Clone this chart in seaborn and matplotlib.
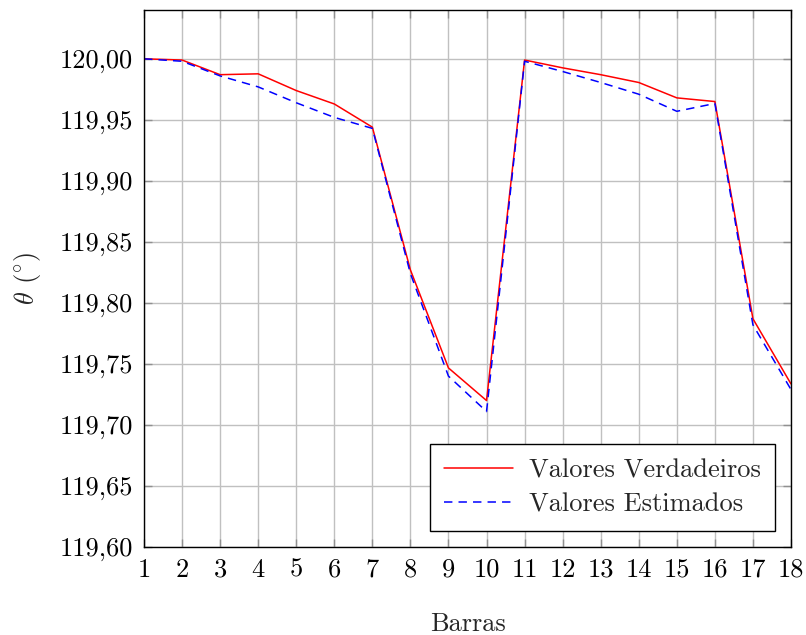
import matplotlib
matplotlib.use("Agg")
import matplotlib.pyplot as plt
import seaborn as sns
import pandas as pd
from matplotlib.ticker import FixedLocator, FixedFormatter

barras = list(range(1, 19))
valores_verdadeiros = [120.000, 119.999, 119.987, 119.9877, 119.974, 119.963, 119.944,
                       119.827, 119.7467, 119.720, 119.999, 119.9926, 119.987, 119.9806,
                       119.968, 119.965, 119.787, 119.7336]
valores_estimados = [120.000, 119.998, 119.986, 119.977, 119.964, 119.952, 119.943,
                     119.824, 119.740, 119.711, 119.998, 119.9896, 119.9806, 119.971,
                     119.957, 119.9634, 119.782, 119.729]
serie_nomes = ["Valores Verdadeiros", "Valores Estimados"]
yticks = [119.60, 119.65, 119.70, 119.75, 119.80, 119.85, 119.90, 119.95, 120.00]
ytick_labels = ["119,60", "119,65", "119,70", "119,75", "119,80", "119,85", "119,90", "119,95", "120,00"]

df = pd.DataFrame({
    "Barras": barras * 2,
    "theta": valores_verdadeiros + valores_estimados,
    "Serie": [serie_nomes[0]] * len(barras) + [serie_nomes[1]] * len(barras),
})

sns.set_theme(style="white")
plt.rcParams["font.family"] = ["cmr10", "DejaVu Serif"]
plt.rcParams["mathtext.fontset"] = "cm"
plt.rcParams["axes.formatter.use_mathtext"] = True

fig = plt.figure(figsize=(8.06, 6.35), dpi=100)
ax = fig.add_axes([144 / 806, 1 - 547 / 635, (791 - 144) / 806, (547 - 10) / 635])

sns.lineplot(data=df, x="Barras", y="theta", hue="Serie", style="Serie",
             palette={serie_nomes[0]: "#ff0000", serie_nomes[1]: "#0000ff"},
             dashes={serie_nomes[0]: (None, None), serie_nomes[1]: (5.5, 4)},
             linewidth=1.1, ax=ax, legend=True)

ax.set_xlim(1, 18)
ax.set_ylim(119.60, 120.04)
ax.xaxis.set_major_locator(FixedLocator(barras))
ax.set_xticklabels([str(b) for b in barras])
ax.yaxis.set_major_locator(FixedLocator(yticks))
ax.yaxis.set_major_formatter(FixedFormatter(ytick_labels))
ax.grid(True, color="#c0c0c0", linewidth=1.0)
ax.set_axisbelow(True)
for s in ax.spines.values():
    s.set_color("black")
    s.set_linewidth(1.0)
    s.set_visible(True)
ax.tick_params(axis="both", direction="in", length=6, width=1.0, color="#909090",
               labelsize=19, pad=8, right=True, top=True, bottom=True, left=True)
ax.tick_params(axis="both", labelcolor="black")

ax.set_xlabel("Barras", fontsize=19, labelpad=22)
ax.set_ylabel(r"$\theta$ $(^{\circ})$", fontsize=19, labelpad=12)

handles, labels = ax.get_legend_handles_labels()
leg = ax.legend(handles, labels, loc="lower right", fontsize=19, frameon=True,
                fancybox=False, edgecolor="black", framealpha=1.0,
                handlelength=2.6, borderaxespad=0.6, borderpad=0.55,
                labelspacing=0.4, handletextpad=0.6)
leg.get_frame().set_linewidth(1.0)

fig.savefig("out.png", dpi=100)
